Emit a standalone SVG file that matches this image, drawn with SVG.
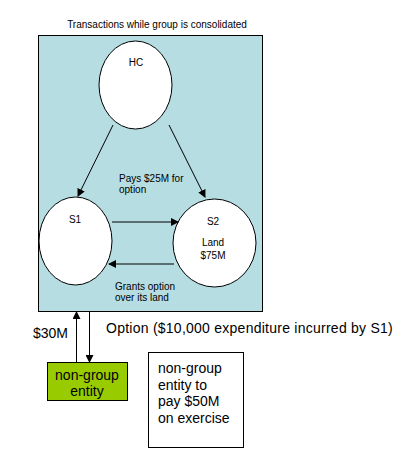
<svg xmlns="http://www.w3.org/2000/svg" width="419" height="462" viewBox="0 0 419 462">
<style>
.s{font-family:"Liberation Sans",Arial,sans-serif;font-size:10px;fill:#000}
.m{font-family:"Liberation Sans",Arial,sans-serif;font-size:14px;fill:#000}
.n{fill:#fff;stroke:#000;stroke-width:1}
.c{stroke:#000;stroke-width:1;fill:none}
</style>
<defs>
<marker id="a" markerWidth="8" markerHeight="8" refX="7" refY="4" orient="auto" markerUnits="userSpaceOnUse">
<path d="M0,0 L8,4 L0,8 z" fill="#000"/>
</marker>
</defs>
<rect width="419" height="462" fill="#fff"/>
<g id="group">
<rect x="38.5" y="35.5" width="224" height="276" fill="#b5dde2" stroke="#000"/>
<text class="s" x="157" y="28" text-anchor="middle">Transactions while group is consolidated</text>
</g>
<g id="HC">
<ellipse class="n" cx="135.5" cy="85" rx="36.5" ry="44"/>
<text class="s" x="136" y="66" text-anchor="middle">HC</text>
</g>
<g id="S1">
<ellipse class="n" cx="75.5" cy="241" rx="36.5" ry="44"/>
<text class="s" x="75" y="223" text-anchor="middle">S1</text>
</g>
<g id="S2">
<ellipse class="n" cx="214.5" cy="243" rx="41.5" ry="44"/>
<text class="s" x="213" y="225" text-anchor="middle">S2</text>
<text class="s" x="213" y="246" text-anchor="middle">Land</text>
<text class="s" x="213" y="259" text-anchor="middle">$75M</text>
</g>
<g id="nongroup">
<rect x="47.5" y="362.5" width="80" height="38" fill="#99cc00" stroke="#000"/>
<text class="m" x="87" y="380" text-anchor="middle">non-group</text>
<text class="m" x="87" y="396" text-anchor="middle">entity</text>
</g>
<g id="note">
<rect x="148.5" y="352.5" width="95" height="95" fill="#fff" stroke="#000"/>
<text class="m" x="158" y="373">non-group</text>
<text class="m" x="158" y="390">entity to</text>
<text class="m" x="158" y="406">pay $50M</text>
<text class="m" x="158" y="423">on exercise</text>
</g>
<g id="connectors">
<line class="c" x1="113" y1="125" x2="78" y2="196" marker-end="url(#a)"/>
<line class="c" x1="169" y1="125" x2="205" y2="197" marker-end="url(#a)"/>
<line class="c" x1="112" y1="222" x2="178" y2="222" marker-end="url(#a)"/>
<line class="c" x1="174" y1="264" x2="109" y2="264" marker-end="url(#a)"/>
<line class="c" x1="76.5" y1="362" x2="76.5" y2="312" marker-end="url(#a)"/>
<line class="c" x1="89.5" y1="311" x2="89.5" y2="362" marker-end="url(#a)"/>
<text class="s" x="119" y="182">Pays $25M for</text>
<text class="s" x="119" y="193">option</text>
<text class="s" x="115" y="290">Grants option</text>
<text class="s" x="115" y="301">over its land</text>
<text class="m" x="33" y="338">$30M</text>
<text class="m" x="106" y="333" letter-spacing="0.25">Option ($10,000 expenditure incurred by S1)</text>
</g>
</svg>
